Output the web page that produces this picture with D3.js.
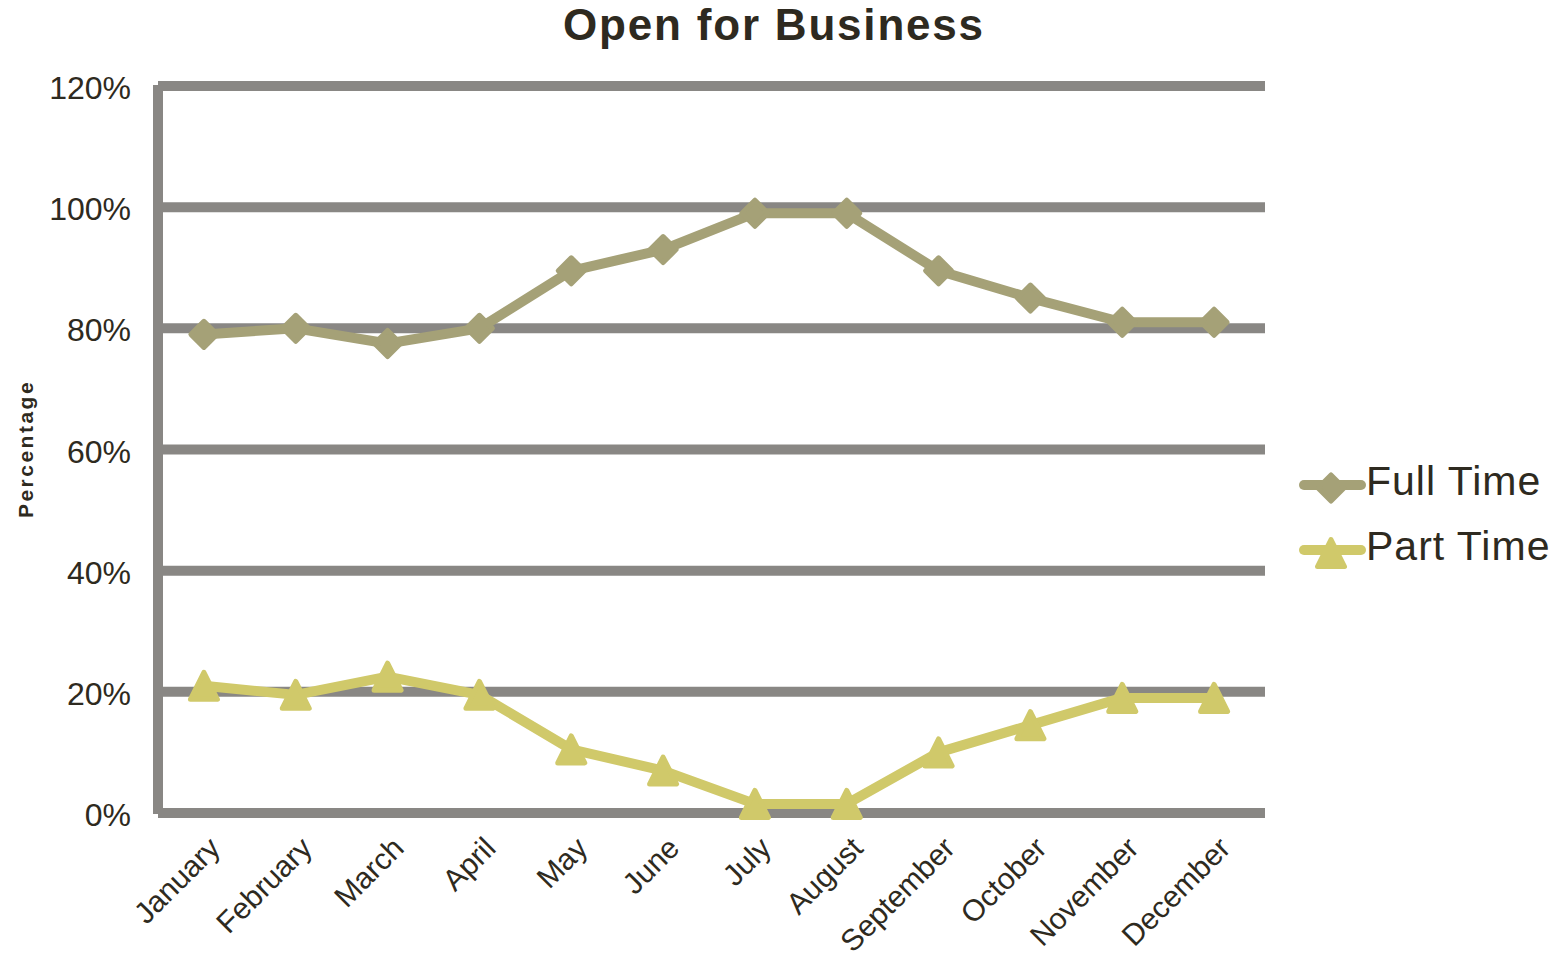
<!DOCTYPE html>
<html>
<head>
<meta charset="utf-8">
<script src="https://cdn.jsdelivr.net/npm/d3@7"></script>
<style>
  html, body { margin: 0; padding: 0; background: #ffffff; }
  svg { display: block; }
  text { font-family: "Liberation Sans", Arial, sans-serif; fill: #2e2a20; }
</style>
</head>
<body>
<script>
// Monthly share of businesses open full time vs part time
const months = ["January", "February", "March", "April", "May", "June",
                "July", "August", "September", "October", "November", "December"];
const fullTime = [79, 80, 77.5, 80, 89.5, 93, 99, 99, 89.5, 85, 81, 81];
const partTime = [21, 19.5, 22.5, 19.5, 10.5, 7, 1.5, 1.5, 10, 14.5, 19, 19];
const yTicks = [0, 20, 40, 60, 80, 100, 120];
const seriesNames = ["Full Time", "Part Time"];

const W = 1564, H = 962;
const colors = { grid: "#898784", full: "#a5a177", part: "#d0c96a", text: "#2e2a20" };

const svg = d3.select("body").append("svg").attr("width", W).attr("height", H);

const plot = { left: 158, right: 1265, top: 86, bottom: 813 };

const x = d3.scalePoint().domain(months).range([plot.left, 1260]).padding(0.5);
const y = d3.scaleLinear().domain([0, 120]).range([plot.bottom, plot.top]);

// Title
svg.append("text")
  .attr("x", 774).attr("y", 40)
  .attr("text-anchor", "middle")
  .style("font-size", "44px").style("font-weight", "bold").style("letter-spacing", "1.8px")
  .text("Open for Business");

// Horizontal gridlines
svg.append("g").selectAll("line").data(yTicks).join("line")
  .attr("x1", plot.left).attr("x2", plot.right)
  .attr("y1", d => y(d)).attr("y2", d => y(d))
  .attr("stroke", colors.grid).attr("stroke-width", 10);

// Vertical axis line
svg.append("line")
  .attr("x1", plot.left).attr("x2", plot.left)
  .attr("y1", y(120) - 1).attr("y2", y(0) + 1)
  .attr("stroke", colors.grid).attr("stroke-width", 10);

// Y tick labels
svg.append("g").selectAll("text").data(yTicks).join("text")
  .attr("x", 131).attr("y", d => y(d) + 13)
  .attr("text-anchor", "end")
  .style("font-size", "32px")
  .text(d => d + "%");

// Y axis title
svg.append("text")
  .attr("transform", "translate(25,449) rotate(-90)")
  .attr("text-anchor", "middle").attr("dominant-baseline", "central")
  .style("font-size", "21px").style("font-weight", "bold").style("letter-spacing", "2.5px")
  .text("Percentage");

// X tick labels, rotated
svg.append("g").selectAll("text").data(months).join("text")
  .attr("transform", d => `translate(${x(d) + 18},850) rotate(-45)`)
  .attr("text-anchor", "end")
  .style("font-size", "30px")
  .text(d => d);

// Marker shapes
const diamondPath = r => `M0,${-r}L${r},0L0,${r}L${-r},0Z`;
const trianglePath = (w, h) => `M0,${-h / 2}L${w / 2},${h / 2}L${-w / 2},${h / 2}Z`;

const line = d3.line().x((d, i) => x(months[i])).y(d => y(d));

function drawSeries(values, color, markerPath) {
  svg.append("path")
    .datum(values)
    .attr("d", line)
    .attr("fill", "none")
    .attr("stroke", color)
    .attr("stroke-width", 10)
    .attr("stroke-linejoin", "round");
  svg.append("g").selectAll("path").data(values).join("path")
    .attr("transform", (d, i) => `translate(${x(months[i])},${y(d)})`)
    .attr("d", markerPath)
    .attr("fill", color)
    .attr("stroke", color)
    .attr("stroke-width", 5)
    .attr("stroke-linejoin", "round");
}

drawSeries(fullTime, colors.full, diamondPath(13));
drawSeries(partTime, colors.part, trianglePath(27, 27));

// Legend
const legend = [
  { name: seriesNames[0], color: colors.full, marker: diamondPath(13), y: 485, ty: 495 },
  { name: seriesNames[1], color: colors.part, marker: trianglePath(27, 27), y: 550, ty: 560 }
];
const lg = svg.append("g").selectAll("g").data(legend).join("g");
lg.append("line")
  .attr("x1", 1304).attr("x2", 1361)
  .attr("y1", d => d.y).attr("y2", d => d.y)
  .attr("stroke", d => d.color).attr("stroke-width", 10).attr("stroke-linecap", "round");
lg.append("path")
  .attr("transform", d => `translate(1331,${d.y + 3})`)
  .attr("d", d => d.marker)
  .attr("fill", d => d.color).attr("stroke", d => d.color)
  .attr("stroke-width", 5).attr("stroke-linejoin", "round");
lg.append("text")
  .attr("x", 1366).attr("y", d => d.ty)
  .style("font-size", "41px").style("letter-spacing", "1px")
  .text(d => d.name);
</script>
</body>
</html>
